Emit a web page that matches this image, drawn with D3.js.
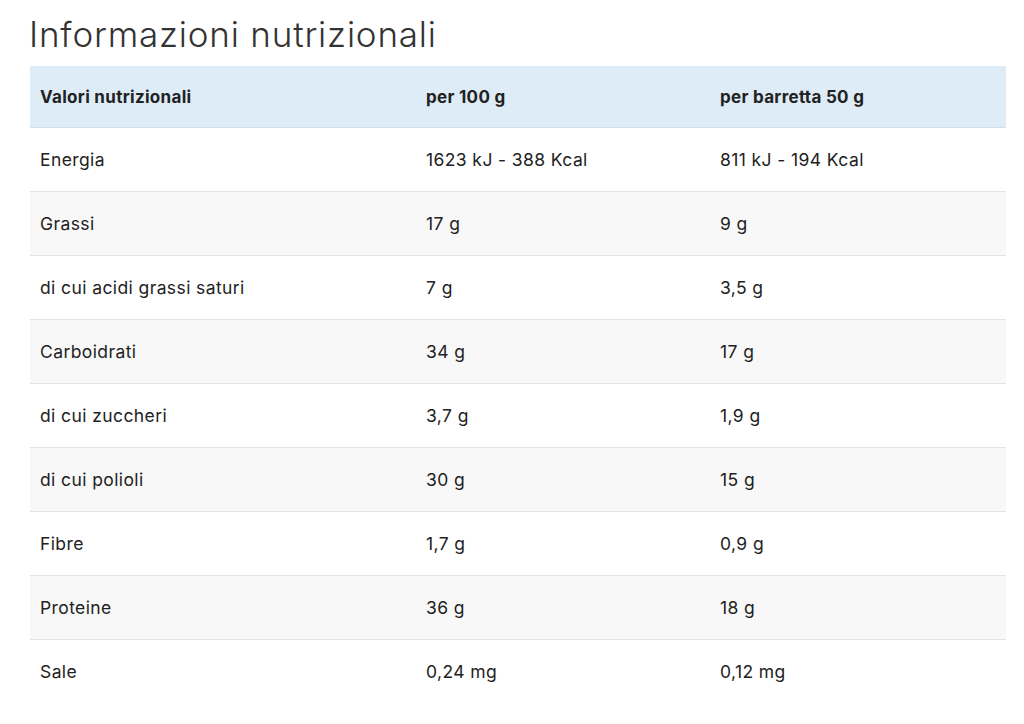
<!DOCTYPE html>
<html><head><meta charset="utf-8">
<script src="https://cdn.jsdelivr.net/npm/d3@7"></script>
<style>body{margin:0;background:#fff;font-family:Inter,"Noto Sans",sans-serif;}</style>
</head><body>
<div id="vis"></div>
<script>
var title = "Informazioni nutrizionali";
var headers = ["Valori nutrizionali", "per 100 g", "per barretta 50 g"];
var nutrients = ["Energia", "Grassi", "di cui acidi grassi saturi", "Carboidrati", "di cui zuccheri", "di cui polioli", "Fibre", "Proteine", "Sale"];
var per100 = ["1623 kJ - 388 Kcal", "17 g", "7 g", "34 g", "3,7 g", "30 g", "1,7 g", "36 g", "0,24 mg"];
var perBar = ["811 kJ - 194 Kcal", "9 g", "3,5 g", "17 g", "1,9 g", "15 g", "0,9 g", "18 g", "0,12 mg"];

var W = 1024, H = 724;
var left = 30, right = 1006, top0 = 66, headH = 62;

var svg = d3.select("#vis").append("svg").attr("width", W).attr("height", H);

svg.append("text").attr("x", 29).attr("y", 47)
    .attr("font-size", 35).attr("font-weight", 300).attr("fill", "#333")
    .attr("letter-spacing", 0.8)
    .text(title);

// columns
var x = d3.scaleOrdinal().domain([0, 1, 2]).range([40, 426, 720]);
// rows
var y = d3.scaleBand().domain(d3.range(nutrients.length))
    .range([top0 + headH, top0 + headH + 64 * nutrients.length]);

svg.append("rect").attr("x", left).attr("y", top0).attr("width", right - left).attr("height", headH)
    .attr("fill", "#deecf7");
svg.append("line").attr("x1", left).attr("x2", right).attr("y1", top0 + headH).attr("y2", top0 + headH)
    .attr("stroke", "#d6dde3").attr("stroke-width", 2);

svg.selectAll(".hd").data(headers).enter().append("text")
    .attr("x", function(d, i) { return x(i); })
    .attr("y", top0 + headH / 2 + 6)
    .attr("font-size", 17).attr("font-weight", 700).attr("fill", "#222")
    .attr("letter-spacing", 0.3)
    .text(function(d) { return d; });

var rows = svg.selectAll(".row").data(nutrients).enter().append("g")
    .attr("transform", function(d, i) { return "translate(0," + y(i) + ")"; });

rows.append("rect").attr("x", left).attr("width", right - left).attr("height", y.bandwidth())
    .attr("fill", function(d, i) { return i % 2 ? "#f8f8f8" : "#fff"; });
rows.filter(function(d, i) { return i < nutrients.length - 1; })
    .append("line").attr("x1", left).attr("x2", right)
    .attr("y1", y.bandwidth()).attr("y2", y.bandwidth())
    .attr("stroke", "#e3e3e3").attr("stroke-width", 2);

rows.each(function(d, i) {
    var g = d3.select(this);
    [d, per100[i], perBar[i]].forEach(function(t, c) {
        g.append("text").attr("x", x(c)).attr("y", y.bandwidth() / 2 + 6)
            .attr("font-size", 17.5).attr("fill", "#222").attr("letter-spacing", 0.4).text(t);
    });
});
</script>
</body></html>
